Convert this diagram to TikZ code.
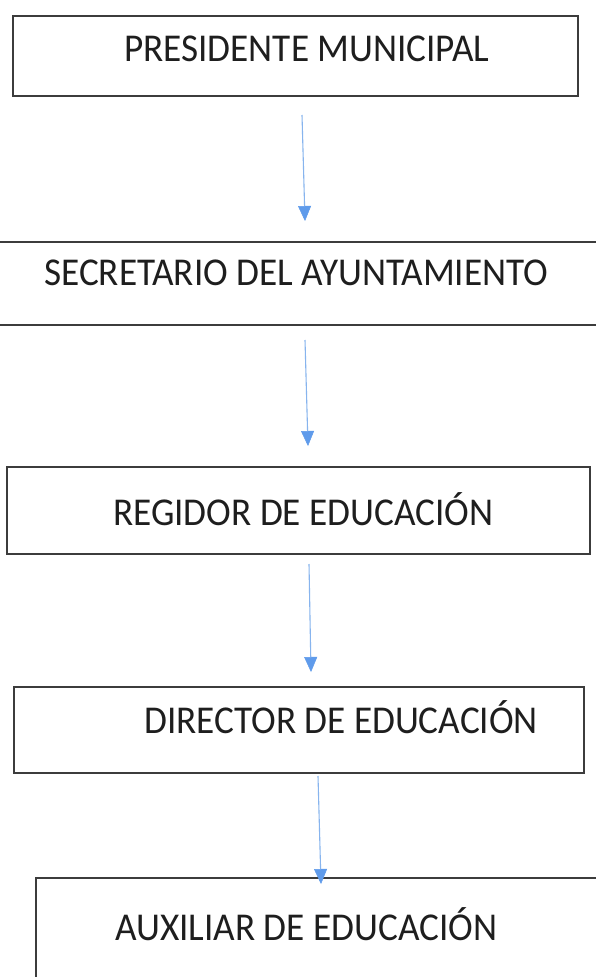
\documentclass[tikz,border=0pt]{standalone}
\usepackage{fontspec}
\setmainfont{Carlito}
\usetikzlibrary{arrows.meta}
\definecolor{boxline}{RGB}{60,60,60}
\definecolor{txt}{RGB}{30,30,30}
\definecolor{arrline}{RGB}{135,180,238}
\definecolor{arrhead}{RGB}{95,155,235}
\tikzset{
  orgbox/.style={draw=boxline, line width=1.6pt, rectangle, inner sep=0pt, anchor=north west},
  orgtext/.style={text=txt, font=\fontsize{37.2}{42}\selectfont, inner sep=0pt, anchor=base west, yscale=1.06, transform shape},
  orgarrow/.style={draw=arrline, line width=1.1pt, -{Triangle[width=13pt,length=15pt,fill=arrhead,color=arrhead,line width=0.5pt]}}
}
\begin{document}
\begin{tikzpicture}[x=1pt,y=-1pt]
\useasboundingbox (0,0) rectangle (596,977);
\clip (0,0) rectangle (596,977);
\fill[white] (0,0) rectangle (596,977);
% boxes
\node[orgbox, minimum width=565pt, minimum height=80pt] (b1) at (12,15) {};
\node[orgbox, minimum width=610pt, minimum height=83pt] (b2) at (-7,241) {};
\node[orgbox, minimum width=583pt, minimum height=87pt] (b3) at (6,466) {};
\node[orgbox, minimum width=570pt, minimum height=86pt] (b4) at (13,686) {};
\node[orgbox, minimum width=580pt, minimum height=120pt] (b5) at (35,877) {};
% texts
\node[orgtext] (t1) at (124,61) {PRESIDENTE MUNICIPAL};
\node[orgtext] (t2) at (44,285) {SECRETARIO DEL AYUNTAMIENTO};
\node[orgtext] (t3) at (113,525) {REGIDOR DE EDUCACIÓN};
\node[orgtext] (t4) at (144,733) {DIRECTOR DE EDUCACIÓN};
\node[orgtext] (t5) at (115,940) {AUXILIAR DE EDUCACIÓN};
% arrow end points
\coordinate (a1s) at (302,115); \coordinate (a1e) at (305,221);
\coordinate (a2s) at (305,340); \coordinate (a2e) at (308,446);
\coordinate (a3s) at (309,564); \coordinate (a3e) at (311,672);
\coordinate (a4s) at (318,776); \coordinate (a4e) at (321,884);
\draw[orgarrow] (a1s) -- (a1e);
\draw[orgarrow] (a2s) -- (a2e);
\draw[orgarrow] (a3s) -- (a3e);
\draw[orgarrow] (a4s) -- (a4e);
\end{tikzpicture}
\end{document}
